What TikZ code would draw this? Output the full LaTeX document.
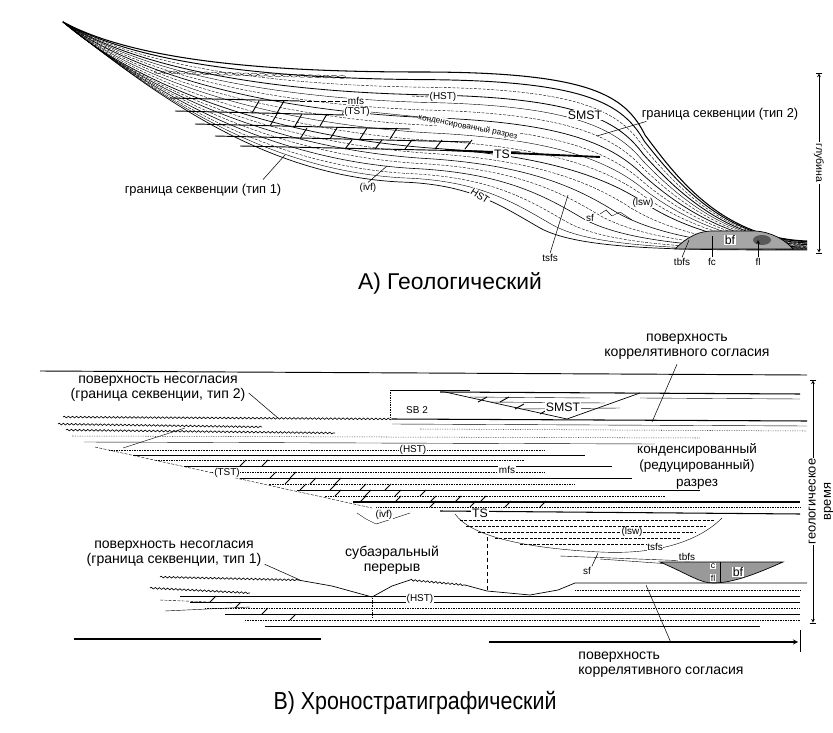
\documentclass[tikz,border=0pt]{standalone}
\usepackage{fontspec}
\setmainfont{Liberation Sans}
\usetikzlibrary{calc,positioning,decorations.pathmorphing}

\begin{document}
\begin{tikzpicture}[x=0.3mm,y=-0.3mm,>=stealth,
  lbl/.style={font=\fontsize{11}{12.5}\selectfont, inner sep=1pt, align=center},
  lblb/.style={font=\fontsize{12}{13}\selectfont, inner sep=1pt, align=center},
  tag/.style={font=\fontsize{8.5}{10}\selectfont, inner sep=0.6pt, fill=white},
  bigtag/.style={tag, font=\fontsize{10.5}{12}\selectfont},
  ttl/.style={font=\fontsize{19.5}{22}\selectfont},
  strat/.style={line width=0.35pt},
  thickstrat/.style={line width=0.9pt},
  dsh/.style={dash pattern=on 2.5pt off 1.2pt},
  dashstrat/.style={line width=0.35pt, dsh},
  dotstrat/.style={line width=0.45pt, densely dotted},
  brickline/.style={line width=0.8pt},
  leader/.style={line width=0.45pt},
  wavy/.style={line width=0.55pt, decorate, decoration={snake, amplitude=0.7pt, segment length=3.5pt}},
  lens/.style={draw, line width=0.6pt, fill=black!40}]

\useasboundingbox (0,0) rectangle (833,733);
\fill[white] (0,0) rectangle (833,733);

\coordinate (top0) at (63,22);  \coordinate (top1) at (130,58);  \coordinate (top2) at (250,72);
\coordinate (top3) at (420,72); \coordinate (top4) at (590,72);  \coordinate (top5) at (625,95);
\coordinate (top6) at (645,135); \coordinate (top7) at (675,175); \coordinate (top8) at (720,238);
\coordinate (top9) at (807,241);
\coordinate (ts0) at (63,22);   \coordinate (ts1) at (130,80);   \coordinate (ts2) at (260,135);
\coordinate (ts3) at (430,148); \coordinate (ts4) at (540,155);  \coordinate (ts5) at (600,175);
\coordinate (ts6) at (640,200); \coordinate (ts7) at (680,228);  \coordinate (ts8) at (740,246);
\coordinate (ts9) at (807,247);
\coordinate (sb0) at (63,22);   \coordinate (sb1) at (150,90);   \coordinate (sb2) at (260,175);
\coordinate (sb3) at (400,182); \coordinate (sb4) at (470,184);  \coordinate (sb5) at (500,205);
\coordinate (sb6) at (540,228); \coordinate (sb7) at (580,250);  \coordinate (sb8) at (680,250);
\coordinate (sb9) at (807,250);

\draw[line width=0.9pt] (top0) .. controls (top1) and (top2) .. (top3) .. controls (top4) and (top5) .. (top6) .. controls (top7) and (top8) .. (top9);
\draw[line width=0.6pt] (ts0) .. controls (ts1) and (ts2) .. (ts3) .. controls (ts4) and (ts5) .. (ts6) .. controls (ts7) and (ts8) .. (ts9);
\draw[line width=0.6pt] (sb0) .. controls (sb1) and (sb2) .. (sb3) .. controls (sb4) and (sb5) .. (sb6) .. controls (sb7) and (sb8) .. (sb9);

\foreach \t/\w/\d in {0.1/0.8/solid,0.2/0.35/dsh,0.3/0.7/solid,0.4/0.35/solid,0.5/0.35/dsh,0.6/0.6/solid,0.7/0.35/dsh,0.8/0.35/solid,0.9/0.35/dsh}
  \draw[line width=\w pt,\d] (top0) .. controls ($(top1)!\t!(ts1)$) and ($(top2)!\t!(ts2)$) .. ($(top3)!\t!(ts3)$)
    .. controls ($(top4)!\t!(ts4)$) and ($(top5)!\t!(ts5)$) .. ($(top6)!\t!(ts6)$)
    .. controls ($(top7)!\t!(ts7)$) and ($(top8)!\t!(ts8)$) .. ($(top9)!\t!(ts9)$);
\foreach \t/\w/\d in {0.15/0.35/dsh,0.3/0.5/solid,0.45/0.35/dsh,0.6/0.5/solid,0.75/0.35/dsh,0.88/0.35/solid}
  \draw[line width=\w pt,\d] (ts0) .. controls ($(ts1)!\t!(sb1)$) and ($(ts2)!\t!(sb2)$) .. ($(ts3)!\t!(sb3)$)
    .. controls ($(ts4)!\t!(sb4)$) and ($(ts5)!\t!(sb5)$) .. ($(ts6)!\t!(sb6)$)
    .. controls ($(ts7)!\t!(sb7)$) and ($(ts8)!\t!(sb8)$) .. ($(ts9)!\t!(sb9)$);

\foreach \x in {158,166,...,342}
  \draw[line width=0.3pt] (\x,{72+(\x-158)*0.027}) ellipse [x radius=3.6, y radius=1.4];

\draw[brickline] (170,98) -- (300,101);
\draw[brickline] (175,111) -- (345,115);
\draw[brickline] (195,124) -- (410,129);
\draw[brickline] (215,136) -- (470,142);
\draw[brickline] (240,146) -- (520,152);
\foreach \x/\y/\h in {252/113/12,277/113/12,270/126/12,295/126/12,320/126/12,300/139/11,330/139/11,360/139/11,390/139/11,345/149/9,375/149/9,405/149/9,435/149/9,465/149/9}
  \draw[brickline] (\x,\y) -- (\x+7,\y-\h);
\draw[line width=1.6pt] (445,150) -- (600,157);

\node[tag] (mfsA) at (356,101) {mfs};
\node[tag] (tstA) at (357,112) {(TST)};
\node[tag] (hstA) at (443,97) {(HST)};
\node[font=\fontsize{7}{8}\selectfont, rotate=-11, inner sep=0.5pt, fill=white] (condA) at (468,127) {конденсированный разрез};
\node[bigtag] (tsA) at (502,154) {TS};
\node[bigtag] (smstA) at (585,115) {SMST};
\node[tag, rotate=-33] (hstlowA) at (480,196) {HST};
\node[tag] (ivfA) at (368,188) {(ivf)};
\node[tag] (lswA) at (643,203) {(lsw)};
\node[tag] (sfA) at (590,218) {sf};
\node[tag] (tsfsA) at (550,258) {tsfs};
\node[tag] (tbfsA) at (682,262) {tbfs};
\node[tag] (fcA) at (712,262) {fc};
\node[tag] (flA) at (758,262) {fl};
\draw[leader, dash pattern=on 4pt off 2pt] (300,101) -- (mfsA.west);
\draw[leader] (342,114) -- (tstA.west);
\draw[strat] (tstA.east) -- (430,118);
\draw[leader, dsh] (412,96) -- (hstA.west);
\draw[strat] (600,214) -- (606,210) -- (612,216) -- (620,212) -- (632,220);

\draw[lens, fill=black!35] (675,249) .. controls (688,236) and (700,231) .. (712,231) -- (755,231) .. controls (772,232) and (785,240) .. (793,249) -- cycle;
\fill[black!65] (762,240) ellipse [x radius=9, y radius=5];
\node[bigtag] (bfA) at (730,240) {bf};

\coordinate (ivfAend) at (387,166);
\coordinate (tsfsAend) at (568,195);
\coordinate (tbfsAend) at (689,240);
\coordinate (fcAend) at (712,236);
\coordinate (flAend) at (758,240);
\draw[leader] (ivfA.north) -- (ivfAend);
\draw[leader] (tsfsA.north) -- (tsfsAend);
\draw[leader] (tbfsA.north) -- (tbfsAend);
\draw[leader] (fcA.north) -- (fcAend);
\draw[leader,->] (flA.north) -- (flAend);

\node[lbl] (sb1A) at (203,190) {граница секвенции (тип 1)};
\coordinate (sb1Aend) at (285,155);
\draw[leader] ($(sb1A.north)+(60,-3)$) -- (sb1Aend);
\node[lbl] (sb2A) at (720,114) {граница секвенции (тип 2)};
\coordinate (sb2Aend) at (597,136);
\draw[leader] ($(sb2A.south west)+(6,0)$) -- (sb2Aend);

\draw[|<->|] (819,73) -- (819,253) node[midway, fill=white, rotate=-90, inner sep=1pt, font=\fontsize{9}{10}\selectfont] (depthA) {глубина};

\node[ttl] (titleA) at (450,283) {A) Геологический};

\draw[line width=0.8pt] (40,371) -- (807,375);
\node[lblb] (ccTop) at (687,347) {поверхность\\коррелятивного согласия};
\coordinate (ccTopEnd) at (652,422);
\draw[leader] ($(ccTop.south)+(-10,3)$) -- (ccTopEnd);

\draw[strat] (390,390) -- (470,390);
\draw[dotstrat] (390,390) -- (390,418);
\draw[thickstrat] (440,392) -- (800,394);
\draw[line width=0.6pt] (445,392) -- (567,419) -- (640,393);
\draw[strat] (470,397) -- (590,398);
\draw[strat] (490,402) -- (605,403);
\draw[strat] (520,409) -- (620,408);
\draw[strat] (640,398) -- (800,399);
\foreach \x/\y in {478/402,500/402,515/409,540/414}
  \draw[brickline] (\x,\y) -- (\x+9,\y-5);
\node[bigtag] (smstB) at (563,407) {SMST};
\node[tag] (sb2B) at (417,410) {SB 2};

\draw[wavy] (63,417) -- (392,419);
\draw[thickstrat] (392,419) -- (807,421);
\draw[strat] (392,424) -- (807,426);
\draw[dotstrat] (420,429) -- (807,431);
\draw[wavy] (58,424) -- (262,427);
\draw[wavy] (66,430) -- (335,433);
\draw[dotstrat] (72,436) -- (700,438);
\draw[strat] (84,442) -- (655,444);
\draw[dashstrat] (95,447) -- (372,508);
\draw[strat] (123,448) -- (185,428);

\foreach \y/\e/\w/\d in {450/545/0.4/densely dotted,455/585/0.7/solid,460/525/0.4/densely dotted,466/612/0.7/solid,472/545/0.4/densely dotted,478/632/0.8/solid,484/575/0.4/densely dotted,490/700/0.7/solid,496/665/0.4/densely dotted,502/800/0.9/solid,507/800/0.4/densely dotted}
  \draw[line width=\w pt,\d] ({95+(\y-447)*4.69},\y) -- (\e,\y);
\foreach \x/\y in {240/466,262/466,270/478,290/478,285/484,310/484,335/484,300/490,330/490,360/490,385/490,335/496,365/496,395/496,420/496,360/502,395/502,430/502,455/502,480/502,430/507,470/507,505/507,540/507}
  \draw[brickline] (\x,\y) -- (\x+6,\y-6);

\node[tag] (tstB) at (227,473) {(TST)};
\node[tag] (hstB) at (413,450) {(HST)};
\node[tag] (mfsB) at (507,470) {mfs};
\node[lbl, font=\fontsize{11.5}{14}\selectfont] (condB) at (697,466) {конденсированный\\(редуцированный)\\разрез};

\node[lblb] (unc2B) at (158,389) {поверхность несогласия\\(граница секвенции, тип 2)};
\coordinate (unc2Bend) at (278,418);
\draw[leader] ($(unc2B.east)+(2,4)$) -- (unc2Bend);

\draw[thickstrat] (440,511) -- (800,514);
\draw[strat] (455,514) .. controls (470,535) and (520,548) .. (600,552) .. controls (660,555) and (700,540) .. (722,518);
\foreach \y/\s/\e in {520/460/715,526/466/706,532/478/696,538/495/680,544/520/660}
  \draw[dashstrat] (\s,\y) -- (\e,\y);
\draw[strat] (560,556) -- (690,561);
\draw[strat] (600,559) -- (670,564);
\node[bigtag] (tsB) at (480,513) {TS};
\node[tag] (lswB) at (632,532) {(lsw)};
\node[tag] (tsfsB) at (655,547) {tsfs};
\node[tag] (tbfsB) at (687,557) {tbfs};
\node[tag] (sfB) at (587,571) {sf};
\coordinate (sfBend) at (598,553);
\draw[leader] (sfB.north east) -- (sfBend);

\draw[lens] (660,562) .. controls (690,575) and (700,583) .. (713,583) .. controls (735,583) and (760,572) .. (783,562) -- cycle;
\draw[strat] (720,562) -- (720,583);
\node[tag, font=\fontsize{7.5}{8}\selectfont] (cB) at (713,566) {c};
\node[tag, font=\fontsize{7.5}{8}\selectfont] (flB) at (713,578) {fl};
\node[bigtag] (bfB) at (738,572) {bf};

\draw[dashed, line width=0.7pt] (487,537) -- (487,592);

\draw[strat] (357,513) -- (366,519) -- (376,524) -- (392,519) -- (410,513);
\node[tag] (ivfB) at (384,515) {(ivf)};

\foreach \y/\s/\e/\w/\d in {590/575/800/0.4/densely dotted,596/180/800/0.4/solid,602/190/800/0.8/solid,608/205/800/0.4/densely dotted,614/225/800/0.5/solid,620/245/800/0.4/densely dotted,626/265/760/0.8/solid}
  \draw[line width=\w pt,\d] (\s,\y) -- (\e,\y);
\draw[wavy] (150,588) -- (250,593);
\draw[dashstrat] (160,600) -- (232,603);
\draw[strat] (165,611) -- (250,607);
\foreach \x/\y in {210/602,235/608,262/614,290/620}
  \draw[brickline] (\x,\y) -- (\x+6,\y-6);
\draw[dotstrat] (372,598) -- (372,618);
\node[tag] (hstlowB) at (420,599) {(HST)};

\draw[wavy] (160,577) -- (298,580);
\draw[line width=0.6pt] (298,580) -- (332,586) -- (372,597) -- (392,586) -- (410,580);
\draw[wavy] (410,580) -- (465,585);
\draw[line width=0.6pt] (465,585) -- (487,591) -- (530,595) -- (558,590) -- (575,583) -- (807,583);

\node[lblb] (unc1B) at (174,554) {поверхность несогласия\\(граница секвенции, тип 1)};
\coordinate (unc1Bend) at (300,580);
\draw[leader] ($(unc1B.south east)+(2,-4)$) -- (unc1Bend);
\node[lblb] (gapB) at (392,560) {субаэральный\\перерыв};

\draw[thickstrat] (74,639) -- (321,639);
\draw[thickstrat,->] (489,642) -- (798,642);
\draw[strat] (800,630) -- (800,652);
\node[lblb, align=left, anchor=west] (ccBot) at (577,665) {поверхность\\коррелятивного согласия};
\coordinate (ccBotEnd) at (646,585);
\draw[leader] ($(ccBot.north)+(10,-8)$) -- (ccBotEnd);

\draw[|<->|] (813,380) -- (813,623) node[midway, fill=white, rotate=90, inner sep=1pt, align=center, font=\fontsize{11}{13}\selectfont, xshift=0pt, yshift=-7pt] (timeB) {геологическое\\время};

\node[ttl, font=\fontsize{21}{24}\selectfont] (titleB) at (415,703) {\scalebox{0.87}[1]{B) Хроностратиграфический}};
\end{tikzpicture}
\end{document}
